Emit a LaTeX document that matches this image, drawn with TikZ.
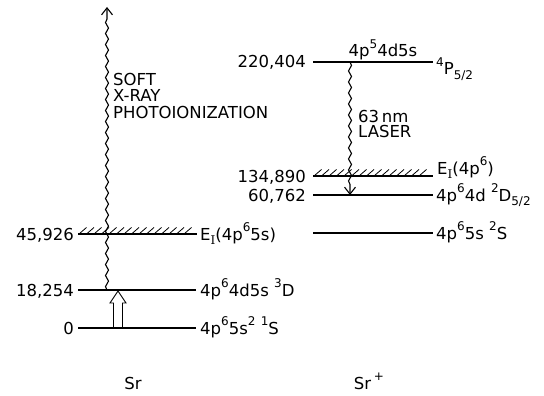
\documentclass[tikz,border=0pt]{standalone}
\usepackage{fontspec}
\setmainfont{DejaVu Sans}
\newfontfamily\serifI{DejaVu Serif}
\usetikzlibrary{decorations.pathmorphing,arrows.meta,calc}
\newcommand{\up}[1]{\raisebox{0.5em}{\fontsize{12}{13}\selectfont #1}}
\newcommand{\dn}[1]{\raisebox{-0.3em}{\fontsize{12}{13}\selectfont #1}}
\begin{document}
\begin{tikzpicture}[x=1pt,y=-1pt,
  level/.style={line width=1.1pt},
  hatch/.style={line width=0.8pt},
  lbl/.style={font=\fontsize{16.5}{18}\selectfont, inner sep=0pt},
  wavy/.style={line width=1.1pt, decorate,
    decoration={snake, amplitude=1.5pt, segment length=11pt, post length=7pt}},
  barb/.style={-{Straight Barb[length=7pt,width=11pt,line width=1.1pt]}},
  openarrow/.style={line width=0.9pt, line join=miter}
]
\useasboundingbox (0,0) rectangle (544,396);

% ---- Sr levels ----
\coordinate (g0L) at (78,328);  \coordinate (g0R) at (196,328);
\coordinate (dL)  at (78,290);  \coordinate (dR)  at (196,290);
\coordinate (iL)  at (78,234);  \coordinate (iR)  at (197,234);
% ---- Sr+ levels ----
\coordinate (pL) at (313,62);   \coordinate (pR) at (433,62);
\coordinate (jL) at (313,176);  \coordinate (jR) at (433,176);
\coordinate (qL) at (313,195);  \coordinate (qR) at (433,195);
\coordinate (sL) at (313,233);  \coordinate (sR) at (433,233);

\draw[level] (g0L) -- (g0R);
\draw[level] (dL) -- (dR);
\draw[level] (iL) -- (iR);
\draw[level] (pL) -- (pR);
\draw[level] (jL) -- (jR);
\draw[level] (qL) -- (qR);
\draw[level] (sL) -- (sR);

% hatching
\foreach \x in {79,86.5,...,189} \draw[hatch] (\x,234) -- ++(7.5,-6.5);
\foreach \x in {314,321.5,...,425} \draw[hatch] (\x,176) -- ++(7.5,-6.5);

% ---- left numbers ----
\node[lbl, anchor=base east] (n0) at (74,334) {0};
\node[lbl, anchor=base east] (n1) at (74,296) {18,254};
\node[lbl, anchor=base east] (n2) at (74,240) {45,926};
% ---- left level labels ----
\node[lbl, anchor=base west] (l0) at (200,334) {4p\up{6}5s\up{2} \up{1}S};
\node[lbl, anchor=base west] (l1) at (200,296) {4p\up{6}4d5s \up{3}D};
\node[lbl, anchor=base west] (l2) at (200,240) {E\dn{\serifI I}(4p\up{6}5s)};

% ---- right numbers ----
\node[lbl, anchor=base east] (m0) at (306,68) {220,404};
\node[lbl, anchor=base east] (m1) at (306,182) {134,890};
\node[lbl, anchor=base east] (m2) at (306,201) {60,762};
% ---- right level labels ----
\node[lbl, anchor=base] (r0a) at (383,57) {4p\up{5}4d5s};
\node[lbl, anchor=base west] (r0b) at (436,75) {\up{4}P\dn{5/2}};
\node[lbl, anchor=base west] (r1) at (437,174) {E\dn{\serifI I}(4p\up{6})};
\node[lbl, anchor=base west] (r2) at (436,201) {4p\up{6}4d \up{2}D\dn{5/2}};
\node[lbl, anchor=base west] (r3) at (436,239) {4p\up{6}5s \up{2}S};

% ---- soft x-ray wavy arrow ----
\coordinate (xs) at (107,290);
\coordinate (xt) at (107,7);
\draw[wavy, barb] (xs) -- (xt);
\node[lbl, anchor=base west] (t1) at (113,86) {SOFT};
\node[lbl, anchor=base west] (t2) at (113,102) {X-RAY};
\node[lbl, anchor=base west] (t3) at (113,118) {PHOTOIONIZATION};

% ---- laser wavy arrow ----
\coordinate (ls) at (350,62);
\coordinate (lt) at (350,195);
\draw[wavy, barb] (ls) -- (lt);
\node[lbl, anchor=base west] (u1) at (358,122) {63\,nm};
\node[lbl, anchor=base west] (u2) at (358,138) {LASER};

% ---- open excitation arrow ----
\coordinate (oa) at (118,328);
\coordinate (ob) at (118,291);
\draw[openarrow] ($(oa)+(-4.5,0)$) -- ($(ob)+(-4.5,12)$) -- ($(ob)+(-8,12)$) -- (ob)
  -- ($(ob)+(8,12)$) -- ($(ob)+(4.5,12)$) -- ($(oa)+(4.5,0)$);

% ---- species ----
\node[lbl, anchor=base] (sr) at (133,389) {Sr};
\node[lbl, anchor=base] (srp) at (369,389) {Sr\,\up{+}};
\end{tikzpicture}
\end{document}
